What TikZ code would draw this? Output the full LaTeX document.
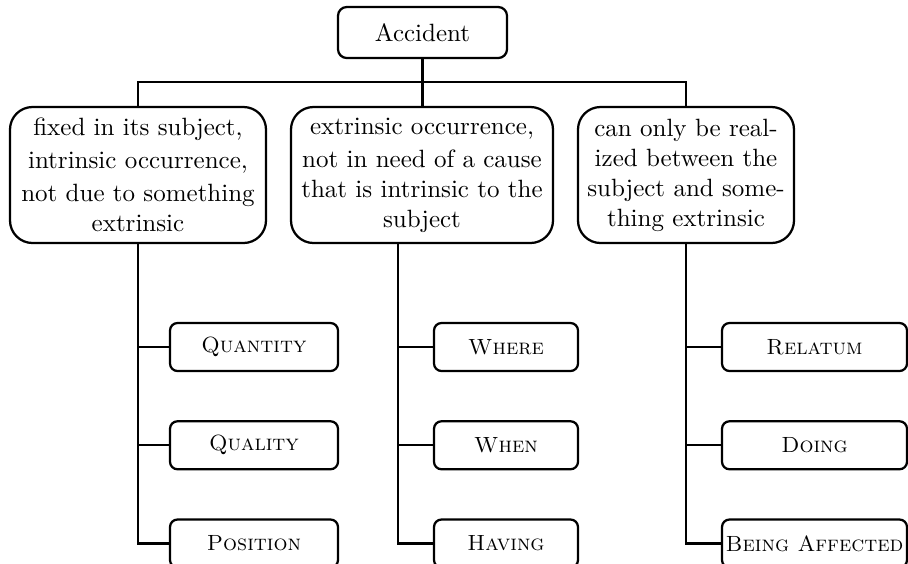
\documentclass[tikz,border=0pt]{standalone}
\usepackage{tikz}
\usetikzlibrary{positioning, calc}

\begin{document}
\begin{tikzpicture}[
      x=0.4pt, y=-0.4pt,
      line width=0.9pt,
      every node/.style = {
        draw, align=center, inner sep=0pt,
        font=\fontsize{10}{12}\selectfont
      },
      topbox/.style  = {rounded corners=3.5pt,
                        minimum width=67.6pt, minimum height=20.4pt},
      kindbox/.style = {rounded corners=9pt,
                        minimum width=#1, minimum height=54.4pt},
      catbox/.style  = {rounded corners=3pt,
                        font=\fontsize{8.8}{10}\selectfont\scshape,
                        minimum width=#1, minimum height=19.2pt},
    ]
    \useasboundingbox (0,0) rectangle (908,563);
    %% ── Nodos ──────────────────────────────────────────────────
    \node (acc) [topbox] at (422.5,32.5) {Accident};

    \node (fix) [kindbox=102.4pt] at (138,175) {
      fixed in its subject,\\[1.2pt]
      intrinsic occurrence,\\[1.2pt]
      not due to something\\
      extrinsic
    };
    \node (ext) [kindbox=104.8pt] at (422,175) {
      extrinsic occurrence,\\[1.2pt]
      not in need of a cause\\
      that is intrinsic to the\\
      subject
    };
    \node (rel) [kindbox=86.4pt] at (686,175) {
      can only be real-\\
      ized between the\\
      subject and some-\\
      thing extrinsic
    };

    \node (qty)   [catbox=67.2pt] at (254,347) {Quantity};
    \node (qual)  [catbox=67.2pt, below=19.2pt of qty]  {Quality};
    \node (pos)   [catbox=67.2pt, below=19.2pt of qual] {Position};

    \node (where) [catbox=57.6pt] at (506,347) {Where};
    \node (when)  [catbox=57.6pt, below=19.2pt of where] {When};
    \node (hav)   [catbox=57.6pt, below=19.2pt of when]  {Having};

    \node (relat) [catbox=74pt] at (814.5,347) {Relatum};
    \node (doing) [catbox=74pt, below=19.2pt of relat] {Doing};
    \node (aff)   [catbox=74pt, below=19.2pt of doing] {Being Affected};

    %% ── Conectores ─────────────────────────────────────────────
    \coordinate (bus) at (422.5,82);
    \draw (acc.south) -- (bus);
    \draw (bus) -| (fix.north);
    \draw (bus) -| (rel.north);
    \draw (bus) -- (bus |- ext.north);

    \draw (fix.south) |- (pos.west);
    \draw (fix.south |- qty.west) -- (qty.west);
    \draw (fix.south |- qual.west) -- (qual.west);

    \coordinate (extstem) at ([xshift=-9.6pt]ext.south);
    \draw (extstem) |- (hav.west);
    \draw (extstem |- where.west) -- (where.west);
    \draw (extstem |- when.west) -- (when.west);

    \draw (rel.south) |- (aff.west);
    \draw (rel.south |- relat.west) -- (relat.west);
    \draw (rel.south |- doing.west) -- (doing.west);
  \end{tikzpicture}
\end{document}
